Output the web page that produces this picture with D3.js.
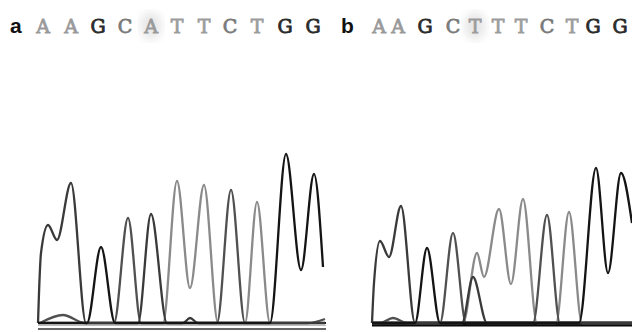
<!DOCTYPE html>
<html>
<head>
<meta charset="utf-8">
<script src="https://cdn.jsdelivr.net/npm/d3@7"></script>
<style>
  html, body { margin: 0; padding: 0; background: #fff; }
  svg { display: block; }
</style>
</head>
<body>
<div id="chart"></div>
<script>
// base calls shown above each trace
const seqA = ['A', 'A', 'G', 'C', 'A', 'T', 'T', 'C', 'T', 'G', 'G'];
const seqB = ['A', 'A', 'G', 'C', 'T', 'T', 'T', 'C', 'T', 'G', 'G'];
// call positions (scan units)
const callPosA = [5, 33, 60, 87, 113, 139, 166, 192, 219, 247, 275];
const callPosB = [7, 26, 53, 81, 103, 126, 149, 175, 200, 221, 248];
// highlighted call index in each panel
const markA = 4;
const markB = 4;

// trace points per channel: [scan, signal]
const traceA_A = [[0, 0], [1, 30], [3, 70], [10, 98], [19, 83], [33, 140], [48, 0], [100, 0], [113, 109], [129, 0], [145, 0], [152, 5], [160, 0], [287, 0]];
const traceA_C = [[2, 0], [25, 8], [47, 0], [76, 0], [90, 105], [103, 0], [179, 0], [193, 133], [207, 0], [270, 0], [287, 4]];
const traceA_G = [[0, 0], [49, 0], [63, 76], [77, 0], [232, 0], [248, 169], [263, 53], [276, 149], [285, 56]];
const traceA_T = [[0, 0], [125, 0], [139, 142], [152, 35], [166, 138], [180, 0], [207, 0], [219, 121], [232, 0], [287, 0]];

const traceB_A = [[0, 0], [2, 40], [8, 82], [17, 66], [29, 117], [43, 0], [90, 0], [101, 46], [115, 0], [260, 0]];
const traceB_C = [[0, 0], [8, 0], [21, 5], [35, 0], [68, 0], [81, 90], [94, 0], [161, 0], [175, 108], [188, 0], [260, 0]];
const traceB_G = [[0, 0], [43, 0], [55, 75], [68, 0], [207, 0], [224, 155], [236, 50], [249, 150], [260, 100]];
const traceB_T = [[0, 0], [91, 0], [105, 70], [112, 46], [127, 114], [139, 39], [151, 124], [165, 0], [184, 0], [197, 111], [210, 0], [260, 0]];

const width = 632, height = 332;
const traceColor = { A: '#3a3a3a', C: '#505050', G: '#141414', T: '#8a8a8a' };
const letterColor = { A: '#9a9a9a', C: '#7a7a7a', G: '#2a2a2a', T: '#9c9c9c' };

const svg = d3.select('#chart').append('svg')
  .attr('width', width).attr('height', height);

svg.append('defs').append('filter').attr('id', 'soft')
  .append('feGaussianBlur').attr('stdDeviation', 4);

const y = d3.scaleLinear().domain([0, 180]).range([323, 143]);

const panels = [
  { label: 'a', lx: 10, seq: seqA, calls: callPosA, mark: markA,
    x: d3.scaleLinear().domain([0, 287]).range([38, 325]),
    traces: { A: traceA_A, C: traceA_C, G: traceA_G, T: traceA_T } },
  { label: 'b', lx: 341, seq: seqB, calls: callPosB, mark: markB,
    x: d3.scaleLinear().domain([0, 260]).range([372, 632]),
    traces: { A: traceB_A, C: traceB_C, G: traceB_G, T: traceB_T } }
];

panels.forEach((p, pi) => {
  const g = svg.append('g');

  // soft highlight behind one base call
  g.append('ellipse')
    .attr('cx', p.x(p.calls[p.mark])).attr('cy', 26)
    .attr('rx', 11).attr('ry', 14)
    .attr('fill', '#e8e8e8')
    .attr('filter', 'url(#soft)');

  g.append('text')
    .attr('x', p.lx).attr('y', 33)
    .style('font-family', 'Liberation Sans, Arial, sans-serif')
    .style('font-weight', 'bold')
    .style('font-size', '21px')
    .attr('fill', '#111')
    .text(p.label);

  g.selectAll('.call')
    .data(p.seq).enter().append('text')
    .attr('class', 'call')
    .attr('x', (d, i) => p.x(p.calls[i]))
    .attr('y', 33)
    .attr('text-anchor', 'middle')
    .style('font-family', '"DejaVu Serif", serif')
    .style('font-size', '19px')
    .attr('fill', d => letterColor[d])
    .attr('stroke', d => letterColor[d])
    .attr('stroke-width', 0.8)
    .text(d => d);

  // baseline
  const [x0, x1] = p.x.range();
  if (pi === 0) {
    g.append('line').attr('x1', x0).attr('x2', x1 + 1)
      .attr('y1', y(0)).attr('y2', y(0))
      .attr('stroke', '#1a1a1a').attr('stroke-width', 2);
    g.append('line').attr('x1', x0).attr('x2', x1 + 1)
      .attr('y1', y(0) + 2.5).attr('y2', y(0) + 2.5)
      .attr('stroke', '#bbb').attr('stroke-width', 1);
    g.append('line').attr('x1', x0).attr('x2', x1 + 1)
      .attr('y1', y(0) + 6).attr('y2', y(0) + 6)
      .attr('stroke', '#333').attr('stroke-width', 1.5);
  } else {
    g.append('rect').attr('x', x0).attr('width', x1 - x0)
      .attr('y', y(0) - 1.5).attr('height', 5)
      .attr('fill', '#0a0a0a');
  }

  const line = d3.line()
    .x(d => p.x(d[0]))
    .y(d => y(d[1]))
    .curve(d3.curveMonotoneX);

  ['T', 'C', 'A', 'G'].forEach(ch => {
    g.append('path')
      .datum(p.traces[ch])
      .attr('fill', 'none')
      .attr('stroke', traceColor[ch])
      .attr('stroke-width', 2.3)
      .attr('stroke-linejoin', 'round')
      .attr('d', line);
  });
});
</script>
</body>
</html>
